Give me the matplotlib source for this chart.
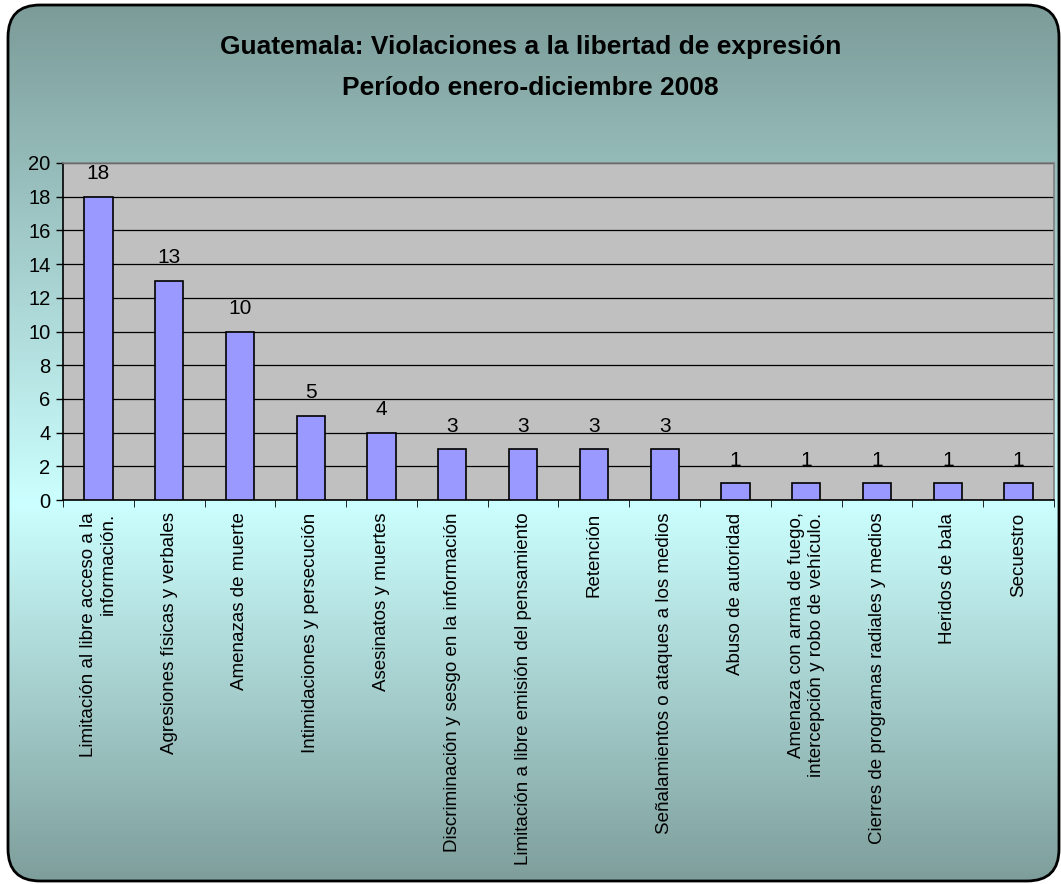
import numpy as np
import matplotlib
matplotlib.use("Agg")
from matplotlib import pyplot as plt
from matplotlib.patches import FancyBboxPatch
from matplotlib.colors import LinearSegmentedColormap

plt.rcParams['font.family'] = ['Liberation Sans', 'DejaVu Sans']

categories = [
    "Limitación al libre acceso a la\ninformación.",
    "Agresiones físicas y verbales",
    "Amenazas de muerte",
    "Intimidaciones y persecución",
    "Asesinatos y muertes",
    "Discriminación y sesgo en la información",
    "Limitación a libre emisión del pensamiento",
    "Retención",
    "Señalamientos o ataques a los medios",
    "Abuso de autoridad",
    "Amenaza con arma de fuego,\nintercepción y robo de vehículo.",
    "Cierres de programas radiales y medios",
    "Heridos de bala",
    "Secuestro",
]
values = [18, 13, 10, 5, 4, 3, 3, 3, 3, 1, 1, 1, 1, 1]
yticks = [0, 2, 4, 6, 8, 10, 12, 14, 16, 18, 20]

W, H = 1061, 884
fig = plt.figure(figsize=(W / 100, H / 100), dpi=100)
fig.patch.set_facecolor("white")

# background with vertical gradient, clipped to a rounded box
bg = fig.add_axes([0, 0, 1, 1])
bg.set_xlim(0, W)
bg.set_ylim(H, 0)
bg.axis("off")
cmap = LinearSegmentedColormap.from_list(
    "bg", [(0.0, "#7b9b98"), (0.57, "#ccffff"), (1.0, "#7e9e9b")])
grad = np.linspace(0, 1, 400).reshape(-1, 1)
box = FancyBboxPatch((8, 5), 1051, 876, boxstyle="round,pad=0,rounding_size=32",
                     facecolor="none", edgecolor="black", linewidth=2, zorder=3)
bg.add_patch(box)
im = bg.imshow(grad, cmap=cmap, aspect="auto", extent=[0, W, H, 0], zorder=1)
im.set_clip_path(box)

fig.text(0.5, 1 - 47 / H, "Guatemala: Violaciones a la libertad de expresión",
         ha="center", va="center", fontsize=19, fontweight="bold")
fig.text(0.5, 1 - 88 / H, "Período enero-diciembre 2008",
         ha="center", va="center", fontsize=19, fontweight="bold")

ax = fig.add_axes([63 / W, 1 - 500 / H, (1054 - 63) / W, (500 - 163) / H])
ax.set_facecolor("#c0c0c0")
x = np.arange(len(categories))
ax.bar(x, values, width=0.4, color="#9999ff", edgecolor="black", linewidth=1.2, zorder=3)
for xi, v in zip(x, values):
    ax.text(xi, v + 0.8, str(v), ha="center", va="bottom", fontsize=15, zorder=4)

ax.set_xlim(-0.5, len(categories) - 0.5)
ax.set_ylim(0, 20)
ax.set_yticks(yticks)
ax.set_yticklabels([str(t) for t in yticks], fontsize=14.5)
ax.yaxis.grid(True, color="black", linewidth=0.9)
ax.set_axisbelow(True)

ax.set_xticks(x)
ax.set_xticklabels(categories, rotation=90, ha="center", va="top",
                   multialignment="right", fontsize=13.5)
ax.tick_params(axis="x", length=0, pad=9)
ax.set_xticks(np.arange(len(categories) + 1) - 0.5, minor=True)
ax.tick_params(axis="x", which="minor", length=5, direction="out")
ax.tick_params(axis="y", length=5, direction="out", width=1, pad=4)

for side in ["left", "bottom"]:
    ax.spines[side].set_color("black")
    ax.spines[side].set_linewidth(1.2)
for side in ["top", "right"]:
    ax.spines[side].set_color("#808080")
    ax.spines[side].set_linewidth(1.2)

plt.savefig("out.png", dpi=100)
